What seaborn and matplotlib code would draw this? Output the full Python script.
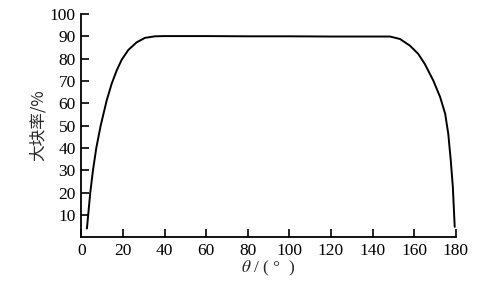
import matplotlib
matplotlib.use("Agg")
import matplotlib.pyplot as plt
import seaborn as sns
import pandas as pd

theta = [2.7, 4.3, 5.6, 7.2, 9.3, 12.2, 14.6, 17.0, 19.4, 22.6, 26.6, 30.6, 35.4,
         40, 60, 80, 100, 120, 140, 148.4, 153.2, 158.0, 162.0, 165.2, 169.2, 172.5,
         174.9, 176.4, 177.6, 178.6, 179.2, 179.5]
rate = [4, 20, 30, 40, 50, 61.3, 68.8, 74.7, 79.5, 83.9, 87.3, 89.3, 90.0,
        90.1, 90.1, 90.0, 90.0, 89.9, 89.9, 89.9, 88.8, 85.8, 82.1, 77.5, 70.2, 62.8,
        55.4, 46.4, 34.5, 22.6, 10.7, 4.7]
xticks = [0, 20, 40, 60, 80, 100, 120, 140, 160, 180]
yticks = [10, 20, 30, 40, 50, 60, 70, 80, 90, 100]

sns.set_style("ticks")
plt.rcParams['font.family'] = ['Liberation Serif', 'Noto Sans CJK SC']
plt.rcParams['mathtext.fontset'] = 'stix'

df = pd.DataFrame({"theta": theta, "rate": rate})
fig = plt.figure(figsize=(4.97, 2.85), dpi=100)
ax = fig.add_axes([0.1636, 0.167, 0.7534, 0.784])
sns.lineplot(data=df, x="theta", y="rate", ax=ax, color="black", linewidth=1.4, sort=False)
ax.set_xlim(0, 180)
ax.set_ylim(0, 100)
ax.set_xticks(xticks)
ax.set_yticks(yticks)
ax.set_xticklabels([str(t) for t in xticks], fontsize=12.5)
ax.set_yticklabels([str(t) for t in yticks], fontsize=12.5)
ax.tick_params(direction="in", length=6, width=1.2, pad=4, colors="black")
for s in ["top", "right"]:
    ax.spines[s].set_visible(False)
for s in ["left", "bottom"]:
    ax.spines[s].set_linewidth(1.3)
    ax.spines[s].set_color("black")
ax.set_xlabel(r"$\theta$ / ( °  )", fontsize=12.5, labelpad=0)
ax.set_ylabel("大块率/%", fontsize=12, family=['Noto Sans CJK SC'], labelpad=2)
fig.savefig("out.png", dpi=100, facecolor="white")
